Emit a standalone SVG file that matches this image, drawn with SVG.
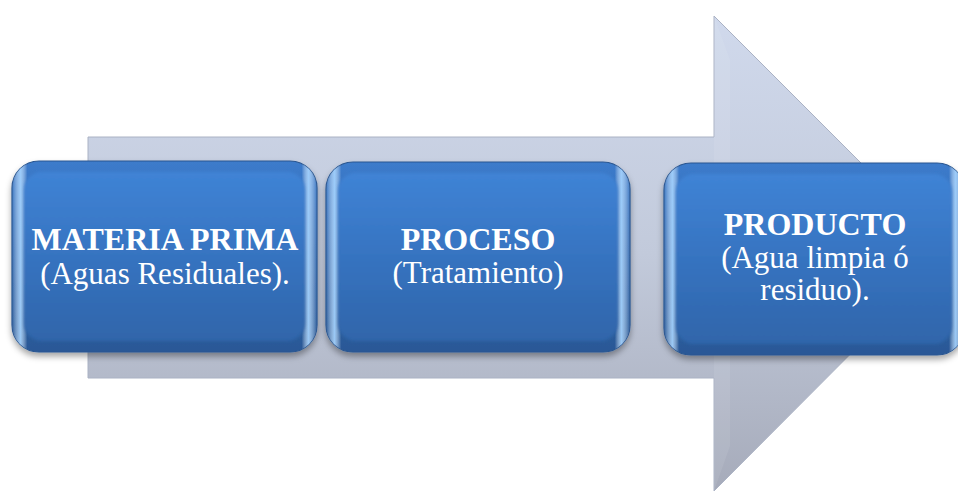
<svg xmlns="http://www.w3.org/2000/svg" width="958" height="491" viewBox="0 0 958 491">
<defs>
<linearGradient id="arrowG" x1="0" y1="0" x2="0" y2="1">
<stop offset="0" stop-color="#d0d9ec"/>
<stop offset="0.5" stop-color="#c2cadb"/>
<stop offset="1" stop-color="#a6abba"/>
</linearGradient>
<linearGradient id="outerG" x1="0" y1="0" x2="0" y2="1">
<stop offset="0" stop-color="#3c7bcb"/>
<stop offset="1" stop-color="#295896"/>
</linearGradient>
<linearGradient id="edgeG" x1="0" y1="0" x2="1" y2="0">
<stop offset="0" stop-color="#ffffff" stop-opacity="0"/>
<stop offset="0.028" stop-color="#a6d4ff" stop-opacity="0.9"/>
<stop offset="0.05" stop-color="#ffffff" stop-opacity="0"/>
<stop offset="0.95" stop-color="#ffffff" stop-opacity="0"/>
<stop offset="0.972" stop-color="#a6d4ff" stop-opacity="0.9"/>
<stop offset="1" stop-color="#ffffff" stop-opacity="0"/>
</linearGradient>
<linearGradient id="innerG" x1="0" y1="0" x2="0" y2="1">
<stop offset="0" stop-color="#3f83d5"/>
<stop offset="0.5" stop-color="#3673c0"/>
<stop offset="1" stop-color="#2f65aa"/>
</linearGradient>
<filter id="shadow" x="-10%" y="-10%" width="120%" height="130%">
<feDropShadow dx="0" dy="4" stdDeviation="3" flood-color="#000000" flood-opacity="0.35"/>
</filter>
<filter id="soft" x="-5%" y="-5%" width="110%" height="110%">
<feGaussianBlur stdDeviation="1.5"/>
</filter>
<style>
.outer{fill:url(#outerG);stroke:#2a5792;stroke-width:1.2}
.edge{fill:url(#edgeG)}
.inner{fill:url(#innerG)}
.t{font-family:"Liberation Serif","Times New Roman",serif;fill:#ffffff;text-anchor:middle;font-size:31px}
.b{font-weight:bold;font-size:32px}
</style>
</defs>

<g id="arrow">
<polygon points="88,137 714,137 714,16 951,253 714,491 714,378 88,378" fill="url(#arrowG)" stroke="#aab2c4" stroke-width="1"/>
<polygon points="714,16 730,60 730,446 714,491" fill="#ffffff" opacity="0.08"/>
</g>

<g id="connectors"></g>

<g id="node1">
<g filter="url(#shadow)">
<rect class="outer" x="12" y="161" width="305" height="191" rx="27"/>
</g>
<rect class="edge" x="12" y="161" width="305" height="191" rx="27"/>
<rect class="inner" x="24" y="172" width="281" height="169" rx="18" filter="url(#soft)"/>
<text class="t b" x="165" y="250">MATERIA PRIMA</text>
<text class="t" x="165" y="284">(Aguas Residuales).</text>
</g>

<g id="node2">
<g filter="url(#shadow)">
<rect class="outer" x="326" y="162" width="304" height="190" rx="27"/>
</g>
<rect class="edge" x="326" y="162" width="304" height="190" rx="27"/>
<rect class="inner" x="338" y="173" width="280" height="168" rx="18" filter="url(#soft)"/>
<text class="t b" x="478" y="250">PROCESO</text>
<text class="t" x="478" y="283">(Tratamiento)</text>
</g>

<g id="node3">
<g filter="url(#shadow)">
<rect class="outer" x="664" y="163" width="300" height="192" rx="27"/>
</g>
<rect class="edge" x="664" y="163" width="300" height="192" rx="27"/>
<rect class="inner" x="676" y="174" width="276" height="170" rx="18" filter="url(#soft)"/>
<text class="t b" x="815" y="235">PRODUCTO</text>
<text class="t" x="815" y="268">(Agua limpia ó</text>
<text class="t" x="815" y="300">residuo).</text>
</g>
</svg>
